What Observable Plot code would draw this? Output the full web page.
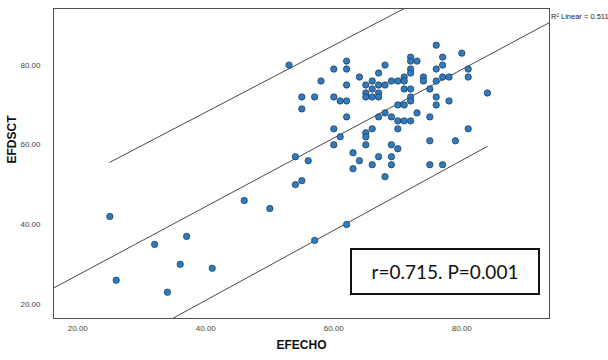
<!DOCTYPE html>
<html><head><meta charset="utf-8">
<script src="https://cdn.jsdelivr.net/npm/d3@7"></script>
<script src="https://cdn.jsdelivr.net/npm/@observablehq/plot@0.6"></script>
<style>
body{margin:0;background:#fff;}
#wrap{position:relative;width:608px;height:360px;overflow:hidden;}
#stat{position:absolute;left:350px;top:248px;width:190px;height:47px;box-sizing:border-box;border:2px solid #111;background:#fff;
 font-family:Lato,"Open Sans",sans-serif;font-size:19px;color:#111;display:flex;align-items:center;justify-content:center;}
</style></head><body><div id="wrap"></div>
<script>
// EFECHO (x) values
const efecho = [25,26,32,37,36,34,41,46,50,57,62,
 53,54,55,54,56,55,55,57,58,60,60,60,60,61,61,62,62,62,62,62,63,63,64,64,
 65,65,65,65,65,65,66,66,66,66,66,67,67,67,67,67,67,68,68,68,68,
 69,69,69,69,69,70,70,70,70,70,71,71,71,71,71,
 72,72,72,72,72,72,72,72,73,73,74,74,75,75,75,75,
 76,76,76,76,76,77,77,77,77,78,78,79,80,81,81,81,84];
// EFDSCT (y) values
const efdsct = [42,26,35,37,30,23,29,46,44,36,40,
 80,50,51,57,56,69,72,72,76,79,72,64,60,62,71,71,75,79,81,67,58,54,77,56,
 75,73,72,63,62,60,76,74,72,64,55,78,75,73,72,67,57,80,75,68,52,
 76,67,60,57,55,76,70,66,64,59,77,76,74,70,66,
 82,81,79,78,74,72,71,66,81,68,77,76,74,67,61,55,
 85,79,76,72,70,82,80,77,55,77,71,61,83,79,77,64,73];
const xTicks = [20, 40, 60, 80];
const yTicks = [20, 40, 60, 80];
const xDomain = [16.2, 93.7];
const yDomain = [16.4, 94.2];
// linear fit
const fitIntercept = 10.1;
const fitSlope = 0.86;
// prediction band end points (over the data range)
const bandX = [25, 84];
const upperBand = [55.6, 105.1];
const lowerBand = [7.8, 59.6];
const xTitle = "EFECHO";
const yTitle = "EFDSCT";
const r2Label = "R² Linear = 0.511";
const statLabel = "r=0.715. P=0.001";

const pts = efecho.map((x, i) => ({x, y: efdsct[i]}));
const fit = xDomain.map(x => ({x, y: fitIntercept + fitSlope * x}));
const up = bandX.map((x, i) => ({x, y: upperBand[i]}));
const lo = bandX.map((x, i) => ({x, y: lowerBand[i]}));

const chart = Plot.plot({
  width: 608, height: 360,
  marginLeft: 53, marginRight: 59, marginTop: 8, marginBottom: 42,
  style: {fontFamily: "'Liberation Sans', Arial, sans-serif", background: "#fff", color: "#444"},
  x: {domain: xDomain},
  y: {domain: yDomain},
  marks: [
    Plot.axisX({ticks: xTicks, tickFormat: d => d.toFixed(2), tickSize: 0, tickPadding: 7, fontSize: 8, label: null, fill: "#444"}),
    Plot.axisY({ticks: yTicks, tickFormat: d => d.toFixed(2), tickSize: 0, tickPadding: 13, fontSize: 8, label: null, fill: "#444"}),
    Plot.line(fit, {x: "x", y: "y", stroke: "#333", strokeWidth: 0.9, clip: true}),
    Plot.line(up, {x: "x", y: "y", stroke: "#333", strokeWidth: 0.9, clip: true}),
    Plot.line(lo, {x: "x", y: "y", stroke: "#333", strokeWidth: 0.9, clip: true}),
    Plot.dot(pts, {x: "x", y: "y", r: 3.2, fill: "#2f7bbf", stroke: "#1c3550", strokeWidth: 0.7}),
    Plot.frame({stroke: "#4a4f57", strokeWidth: 1}),
    Plot.text([xTitle], {frameAnchor: "bottom", dy: 30, fontSize: 12, fontWeight: "bold", fill: "#111"}),
    Plot.text([yTitle], {frameAnchor: "left", dx: -41, rotate: -90, fontSize: 12, fontWeight: "bold", fill: "#111"}),
    Plot.text([r2Label], {frameAnchor: "top-right", textAnchor: "start", dx: 1.5, dy: 5.5, fontSize: 7.5, fill: "#222"})
  ]
});
const wrap = document.getElementById("wrap");
wrap.appendChild(chart);
const stat = document.createElement("div");
stat.id = "stat";
stat.textContent = statLabel;
wrap.appendChild(stat);
</script>
</body></html>
